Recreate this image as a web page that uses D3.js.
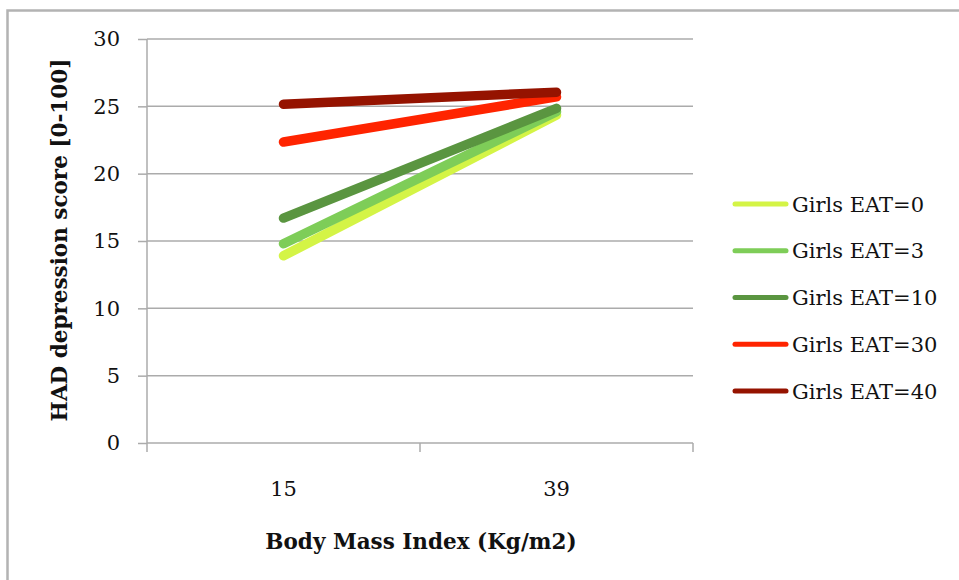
<!DOCTYPE html>
<html>
<head>
<meta charset="utf-8">
<script src="https://cdn.jsdelivr.net/npm/d3@7"></script>
<style>
  html, body { margin: 0; padding: 0; background: #fff; }
  svg { display: block; }
</style>
</head>
<body>
<svg id="chart" width="959" height="580"></svg>
<script>
// ---- data ----
const categories = ["15", "39"];
const seriesNames = ["Girls EAT=0", "Girls EAT=3", "Girls EAT=10", "Girls EAT=30", "Girls EAT=40"];
const eat0  = [13.9, 24.35];
const eat3  = [14.8, 24.6];
const eat10 = [16.7, 24.85];
const eat30 = [22.35, 25.7];
const eat40 = [25.15, 26.05];
const seriesColors = ["#d4f446", "#7ecd58", "#5a9540", "#ff2400", "#951300"];
const yTicks = [0, 5, 10, 15, 20, 25, 30];
const xTitle = "Body Mass Index (Kg/m2)";
const yTitle = "HAD depression score [0-100]";

const seriesValues = [eat0, eat3, eat10, eat30, eat40];

const svg = d3.select("#chart");
const FONT = "'DejaVu Serif', serif";
const GRID = "#ababab";
const TXT = "#111";

// outer border
svg.append("rect")
  .attr("x", 7.5).attr("y", 10.5)
  .attr("width", 1000).attr("height", 600)
  .attr("fill", "none").attr("stroke", "#b3b3b3").attr("stroke-width", 2.5);

const plot = { left: 147, right: 693, top: 39, bottom: 443 };

const x = d3.scaleBand().domain(categories).range([plot.left, plot.right]).padding(0);
const y = d3.scaleLinear().domain([0, 30]).range([plot.bottom, plot.top]);

// gridlines
svg.append("g")
  .selectAll("line").data(yTicks.filter(t => t > 0)).join("line")
  .attr("x1", plot.left).attr("x2", plot.right)
  .attr("y1", d => y(d)).attr("y2", d => y(d))
  .attr("stroke", GRID).attr("stroke-width", 1.5);

// y axis
const yAxis = d3.axisLeft(y).tickValues(yTicks).tickSize(9).tickPadding(18).tickFormat(d3.format("d"));
const gy = svg.append("g").attr("transform", `translate(${plot.left},0)`).call(yAxis);
gy.select(".domain").attr("stroke", GRID).attr("stroke-width", 1.5).attr("d", `M0,${plot.top}V${plot.bottom}`);
gy.selectAll(".tick line").attr("stroke", GRID).attr("stroke-width", 1.5);
gy.selectAll(".tick text").attr("font-family", FONT).attr("font-size", 21).attr("fill", TXT);

// x axis
const xAxis = d3.axisBottom(x).tickSize(0).tickPadding(38);
const gx = svg.append("g").attr("transform", `translate(0,${plot.bottom})`).call(xAxis);
gx.select(".domain").attr("stroke", GRID).attr("stroke-width", 1.5).attr("d", `M${plot.left},0H${plot.right}`);
gx.selectAll(".tick text").attr("font-family", FONT).attr("font-size", 21).attr("fill", TXT);
// category boundary tick marks
const bounds = categories.map(c => x(c)).concat([x(categories[categories.length - 1]) + x.bandwidth()]);
gx.append("g").selectAll("line").data(bounds).join("line")
  .attr("x1", d => d).attr("x2", d => d).attr("y1", 0).attr("y2", 9)
  .attr("stroke", GRID).attr("stroke-width", 1.5);

// series lines
const line = d3.line()
  .x((d, i) => x(categories[i]) + x.bandwidth() / 2)
  .y(d => y(d));
svg.append("g").selectAll("path").data(seriesValues).join("path")
  .attr("d", d => line(d))
  .attr("fill", "none")
  .attr("stroke", (d, i) => seriesColors[i])
  .attr("stroke-width", 9.5)
  .attr("stroke-linecap", "round")
  .attr("stroke-linejoin", "round");

// legend
const lg = svg.append("g");
const legY = d3.scaleLinear().domain([0, 4]).range([204, 391]);
seriesNames.forEach((name, i) => {
  const yy = legY(i);
  lg.append("line").attr("x1", 735).attr("x2", 786).attr("y1", yy).attr("y2", yy)
    .attr("stroke", seriesColors[i]).attr("stroke-width", 5).attr("stroke-linecap", "round");
  lg.append("text").attr("x", 792).attr("y", yy).attr("dy", "0.36em")
    .attr("font-family", FONT).attr("font-size", 21).attr("fill", TXT).text(name);
});

// axis titles
svg.append("text")
  .attr("x", 421).attr("y", 549)
  .attr("text-anchor", "middle")
  .attr("font-family", FONT).attr("font-weight", "bold").attr("font-size", 21.5)
  .attr("fill", TXT).text(xTitle);
svg.append("text")
  .attr("transform", "translate(67,240) rotate(-90)")
  .attr("text-anchor", "middle")
  .attr("font-family", FONT).attr("font-weight", "bold").attr("font-size", 21.5)
  .attr("fill", TXT).text(yTitle);
</script>
</body>
</html>
